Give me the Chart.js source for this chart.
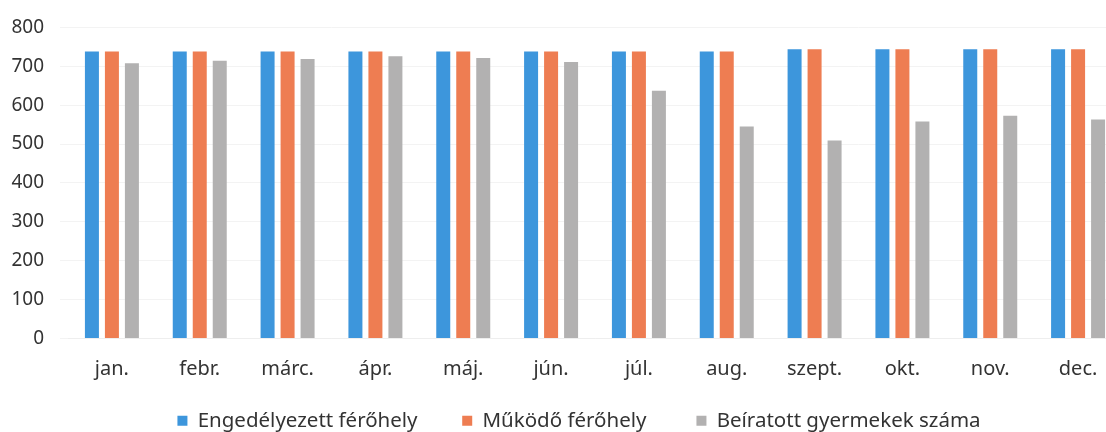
<!DOCTYPE html>
<html>
<head>
<meta charset="utf-8">
<script src="https://cdn.jsdelivr.net/npm/chart.js@4"></script>
<style>
  html, body { margin: 0; padding: 0; background: #fff; overflow: hidden; }
  #wrap { width: 1122px; height: 441px; }
</style>
</head>
<body>
<div id="wrap"><canvas id="myChart"></canvas></div>
<script>
// Hónapok és a három adatsor
const honapok = ['jan.', 'febr.', 'márc.', 'ápr.', 'máj.', 'jún.', 'júl.', 'aug.', 'szept.', 'okt.', 'nov.', 'dec.'];
const engedelyezett = [738, 738, 738, 738, 738, 738, 738, 738, 744, 744, 744, 744];
const mukodo = [738, 738, 738, 738, 738, 738, 738, 738, 744, 744, 744, 744];
const beiratott = [708, 714, 719, 726, 721, 711, 637, 545, 509, 558, 573, 563];
const yTicks = [0, 100, 200, 300, 400, 500, 600, 700, 800];

// szóközök a jelmagyarázat tételei után (térköz)
const legendSpaces = [5, 6, 6];

const betu = 'Noto Sans';

const ctx = document.getElementById('myChart');

new Chart(ctx, {
  type: 'bar',
  data: {
    labels: honapok,
    datasets: [{
      label: 'Engedélyezett férőhely',
      data: engedelyezett,
      backgroundColor: '#3d96dc'
    },
    {
      label: 'Működő férőhely',
      data: mukodo,
      backgroundColor: '#ee7d52'
    },
    {
      label: 'Beíratott gyermekek száma',
      data: beiratott,
      backgroundColor: '#b2b1b1'
    }]
  },
  options: {
    responsive: true,
    maintainAspectRatio: false,
    animation: false,
    datasets: {
      bar: { categoryPercentage: 0.683, barPercentage: 0.7 }
    },
    layout: { padding: { left: 0, right: 0, top: -4, bottom: 0 } },
    plugins: {
      tooltip: { enabled: false },
      legend: {
        position: 'bottom',
        fullSize: false,
        labels: {
          font: { family: betu, size: 20.5 },
          color: '#333',
          boxWidth: 10,
          boxHeight: 10,
          padding: 18,
          generateLabels: (chart) => {
            const items = Chart.defaults.plugins.legend.labels.generateLabels(chart);
            items.forEach((it, i) => {
              it.text = it.text + '\u00a0'.repeat(legendSpaces[i]);
            });
            return items;
          }
        }
      }
    },
    scales: {
      x: {
        grid: { display: false },
        border: { display: true, color: '#eeeeee' },
        ticks: { font: { family: betu, size: 20 }, color: '#333', padding: 11 }
      },
      y: {
        min: 0,
        max: 800,
        afterBuildTicks: (axis) => { axis.ticks = yTicks.map(v => ({ value: v })); },
        afterFit: (axis) => { axis.width = 68; },
        grid: { color: '#f3f3f3' },
        border: { display: false },
        ticks: { font: { family: betu, size: 19 }, color: '#333', padding: 16 }
      }
    }
  }
});
</script>
</body>
</html>
